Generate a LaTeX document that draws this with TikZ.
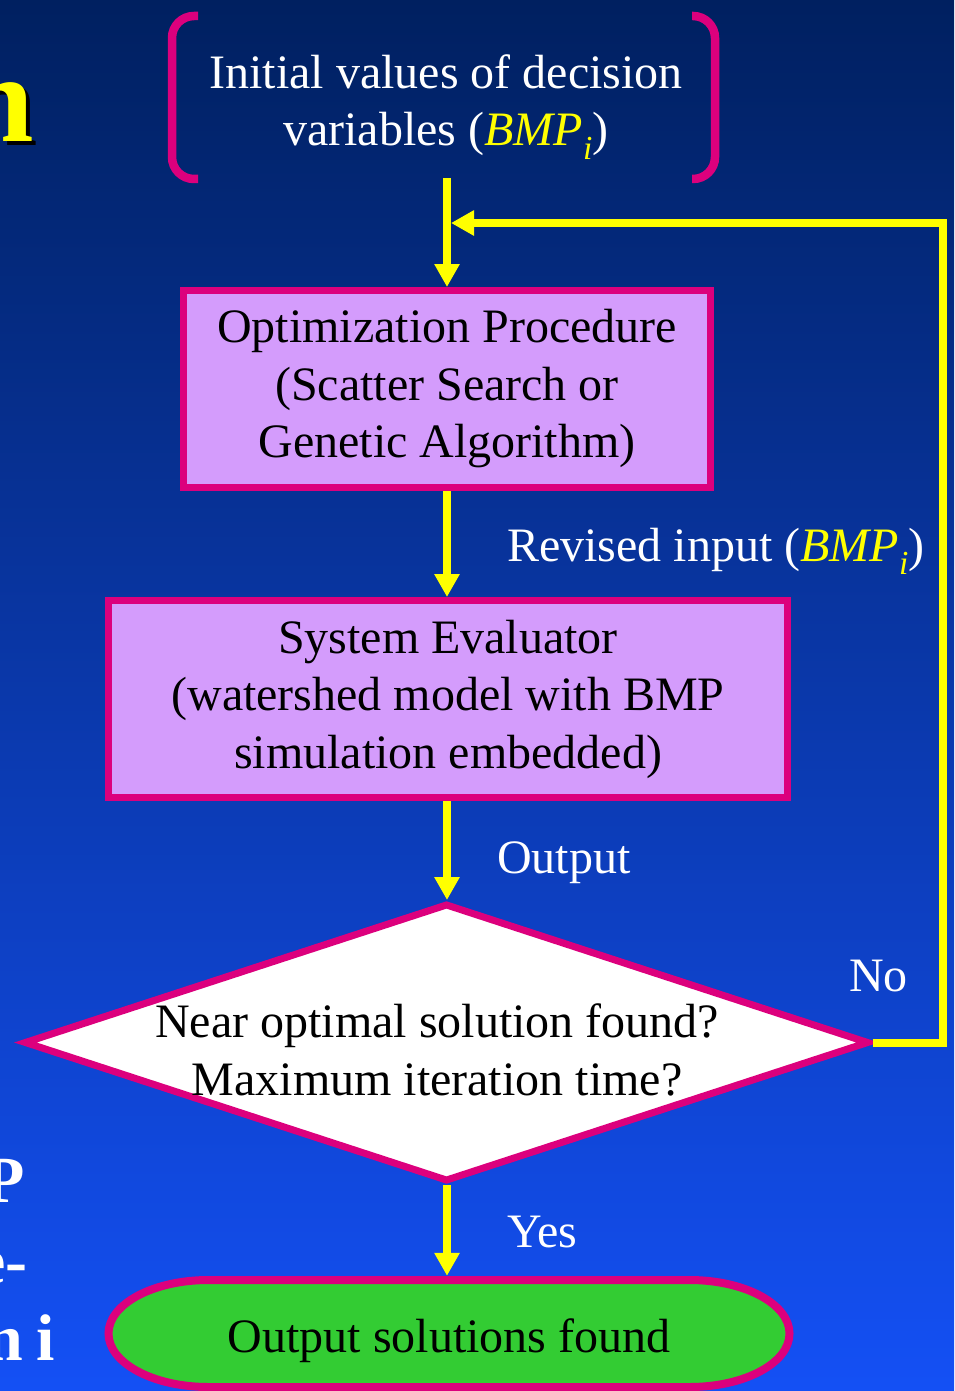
\documentclass[tikz,border=0pt]{standalone}
\usepackage{fontspec}
\setmainfont{Liberation Serif}
\usetikzlibrary{arrows.meta,shapes.geometric}
\definecolor{bgtop}{RGB}{0,32,96}
\definecolor{bgbot}{RGB}{20,80,245}
\definecolor{mag}{RGB}{220,0,125}
\definecolor{lav}{RGB}{212,156,252}
\definecolor{ylw}{RGB}{255,255,0}
\definecolor{grn}{RGB}{51,204,51}
\newcommand{\bmpi}{\textcolor{ylw}{\textit{BMP}\textsubscript{\textit{i}}}}
\begin{document}
\begin{tikzpicture}[x=1pt,y=-1pt,
  big/.style={font=\fontsize{48}{57.5}\selectfont, align=center},
  procbox/.style={big, draw=mag, line width=7pt, fill=lav, text=black, inner sep=0pt},
  flow/.style={draw=ylw, line width=8pt, -{Triangle[length=23pt,width=24pt]}},
  lbl/.style={font=\fontsize{48}{57.5}\selectfont, text=white, anchor=base west, inner sep=0pt},
  side/.style={font=\fontsize{66}{80}\selectfont\bfseries, text=white, anchor=base east, inner sep=0pt},
  bracket/.style={draw=mag, line width=8.5pt, rounded corners=22pt},
  termshape/.style={draw=mag, line width=8pt, fill=grn},
]
\useasboundingbox (0,0) rectangle (954,1391);
\clip (0,0) rectangle (954,1391);
\shade[top color=bgtop,bottom color=bgbot] (0,0) rectangle (954,1391);

% cut-off slide texts on the left
\node[font=\fontsize{125}{125}\selectfont\bfseries, text=black, anchor=base east, inner sep=0pt] (titleshadow) at (38,146) {n};
\node[font=\fontsize{125}{125}\selectfont\bfseries, text=ylw, anchor=base east, inner sep=0pt] (title) at (34,142) {n};
\node[side] (s1) at (25,1202) {P};
\node[side] (s2) at (28,1283) {e-};
\node[side] (s3) at (55,1360) {n\kern13pt i};

% brackets around the initial values
\draw[bracket] (198,16) -- (172,16) -- (172,179) -- (198,179);
\draw[bracket] (692,16) -- (715,16) -- (715,179) -- (692,179);
\node[big, text=white, inner sep=0pt] (init) at (446,107) {Initial values of decision\\variables (\bmpi)};
\coordinate (initout) at (447,178);

% boxes
\node[procbox, minimum width=527pt, minimum height=197pt] (opt) at (447,389)
  {Optimization Procedure\\(Scatter Search or\\Genetic Algorithm)};
\node[procbox, minimum width=679pt, minimum height=197pt] (ev) at (448,699)
  {System Evaluator\\(watershed model with BMP\\simulation embedded)};

% decision
\node[draw=mag, fill=white, line width=7pt, diamond, minimum width=845pt, minimum height=278pt, inner sep=0pt] (dec) at (446.5,1042.5) {};
\node[big, text=black, inner sep=0pt] (dtxt) at (437,1050) {Near optimal solution found?\\Maximum iteration time?};

% terminator
\filldraw[termshape] (208.5,1280) -- (689.5,1280)
  arc[start angle=-90,end angle=90,x radius=100,y radius=53.5]
  -- (208.5,1387)
  arc[start angle=90,end angle=270,x radius=100,y radius=53.5] -- cycle;
\node[big, text=black, minimum width=689pt, minimum height=115pt, inner sep=0pt, text height=38pt, text depth=0pt] (term) at (449,1333.5) {Output solutions found};

% connectors
\draw[flow] (initout) -- (opt.north);
\draw[flow] (opt.south) -- (opt.south |- ev.north);
\draw[flow] (opt.south |- ev.south) -- (opt.south |- dec.north);
\draw[flow] (opt.south |- dec.south) -- (opt.south |- term.north);
\coordinate (fbcorner) at (943,223);
\coordinate (fbend) at (451,223);
\draw[flow] (dec.east) -| (fbcorner) -- (fbend);

% labels
\node[lbl] (rev) at (507,561) {Revised input (\bmpi)};
\node[lbl] (outlbl) at (497,873) {Output};
\node[lbl] (nolbl) at (849,991) {No};
\node[lbl] (yeslbl) at (507,1247) {Yes};
\end{tikzpicture}
\end{document}
